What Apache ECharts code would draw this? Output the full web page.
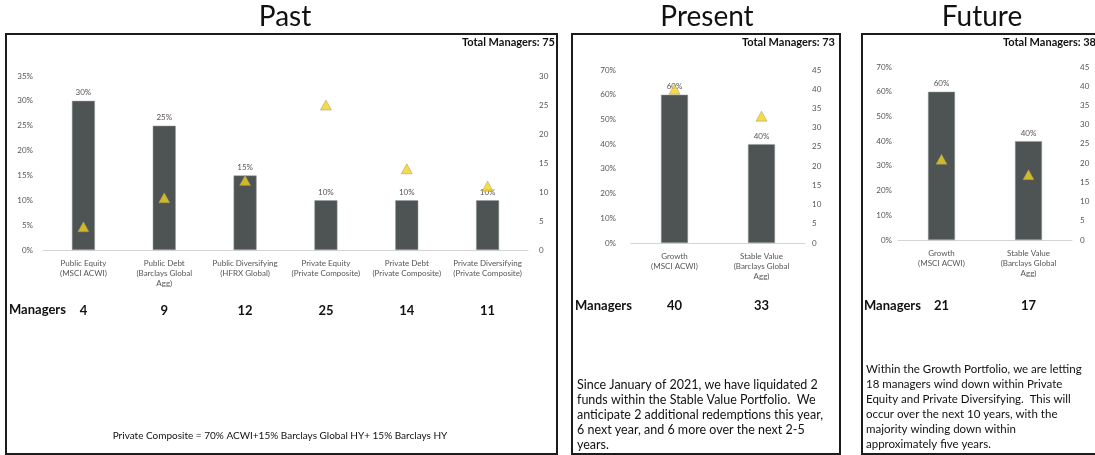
<!DOCTYPE html>
<html>
<head>
<meta charset="utf-8">
<title>Managers - Past / Present / Future</title>
<script src="https://cdn.jsdelivr.net/npm/echarts@6/dist/echarts.min.js"></script>
<style>
	html, body { margin: 0; padding: 0; background: #fff; }
	#container { width: 1095px; height: 455px; }
</style>
</head>
<body>
<div id="container"></div>
<script>
// data
var pastCategories = ['Public Equity\n(MSCI ACWI)', 'Public Debt\n(Barclays Global\nAgg)', 'Public Diversifying\n(HFRX Global)',
	'Private Equity\n(Private Composite)', 'Private Debt\n(Private Composite)', 'Private Diversifying\n(Private Composite)'];
var pastAllocation = [30, 25, 15, 10, 10, 10];
var pastManagers = [4, 9, 12, 25, 14, 11];

var presentCategories = ['Growth\n(MSCI ACWI)', 'Stable Value\n(Barclays Global\nAgg)'];
var presentAllocation = [60, 40];
var presentManagers = [40, 33];

var futureCategories = ['Growth\n(MSCI ACWI)', 'Stable Value\n(Barclays Global\nAgg)'];
var futureAllocation = [60, 40];
var futureManagers = [21, 17];

var pastTotal = 75, presentTotal = 73, futureTotal = 38;

var presentNote = 'Since January of 2021, we have liquidated 2\nfunds within the Stable Value Portfolio.  We\nanticipate 2 additional redemptions this year,\n6 next year, and 6 more over the next 2-5\nyears.';
var futureNote = 'Within the Growth Portfolio, we are letting\n18 managers wind down within Private\nEquity and Private Diversifying.  This will\noccur over the next 10 years, with the\nmajority winding down within\napproximately five years.';
var pastNote = 'Private Composite = 70% ACWI+15% Barclays Global HY+ 15% Barclays HY';

(function(){
	var dom = document.getElementById("container");
	var myChart = echarts.init(dom);
	var FONT = 'Lato, "Liberation Sans", sans-serif';
	var BAR = '#4e5354';
	var TRI = '#f3d21a';

	var grid = [], xAxis = [], yAxis = [], series = [];

	// one panel = one grid, category axis + managers row, two value axes, bars + triangles
	function panel(p) {
		var g = grid.length;
		grid.push({left: p.left, width: p.width, top: p.top, height: p.height});
		xAxis.push({
			type: 'category', gridIndex: g, data: p.categories,
			axisLine: {lineStyle: {color: '#d4d4d4'}}, axisTick: {show: false},
			axisLabel: {fontFamily: FONT, fontSize: 8, lineHeight: 10, color: '#555', margin: 8, interval: 0}
		});
		xAxis.push({
			type: 'category', gridIndex: g, data: p.managers.map(String), position: 'bottom', offset: p.rowOffset,
			axisLine: {show: false}, axisTick: {show: false},
			axisLabel: {fontFamily: FONT, fontSize: 13, fontWeight: 'bold', color: '#111', margin: 4, interval: 0}
		});
		yAxis.push({
			type: 'value', gridIndex: g, min: 0, max: p.leftMax, interval: p.leftStep,
			splitLine: {show: false}, axisLine: {show: false}, axisTick: {show: false},
			axisLabel: {fontFamily: FONT, fontSize: 8, color: '#555', margin: p.leftMargin, formatter: '{value}%'}
		});
		yAxis.push({
			type: 'value', gridIndex: g, position: 'right', min: 0, max: p.rightMax, interval: 5,
			splitLine: {show: false}, axisLine: {show: false}, axisTick: {show: false},
			axisLabel: {fontFamily: FONT, fontSize: 8, color: '#555', margin: p.rightMargin}
		});
		series.push({
			type: 'bar', xAxisIndex: 2 * g, yAxisIndex: 2 * g, data: p.allocation, barWidth: p.barWidth,
			itemStyle: {color: BAR, borderColor: '#9a9e9e', borderWidth: 0.5},
			label: {show: true, position: 'top', distance: 4, fontFamily: FONT, fontSize: 8, color: '#555', formatter: '{c}%'},
			silent: true
		});
		series.push({
			type: 'scatter', xAxisIndex: 2 * g, yAxisIndex: 2 * g + 1, data: p.managers,
			symbol: 'triangle', symbolSize: [11, 10],
			itemStyle: {color: TRI, borderColor: '#9c9468', borderWidth: 0.6},
			z: 5, silent: true
		});
	}

	panel({left: 43, width: 485, top: 76, height: 174, categories: pastCategories, allocation: pastAllocation,
		managers: pastManagers, leftMax: 35, leftStep: 5, rightMax: 30, barWidth: 23,
		leftMargin: 10, rightMargin: 11, rowOffset: 50});
	panel({left: 631, width: 174, top: 70, height: 173, categories: presentCategories, allocation: presentAllocation,
		managers: presentManagers, leftMax: 70, leftStep: 10, rightMax: 45, barWidth: 27,
		leftMargin: 15, rightMargin: 7, rowOffset: 52});
	panel({left: 898, width: 174, top: 67, height: 173, categories: futureCategories, allocation: futureAllocation,
		managers: futureManagers, leftMax: 70, leftStep: 10, rightMax: 45, barWidth: 27,
		leftMargin: 6, rightMargin: 8, rowOffset: 55});

	function box(x, w) {
		return {type: 'rect', shape: {x: x, y: 34, width: w, height: 420},
			style: {fill: 'none', stroke: '#1c1c1c', lineWidth: 2}, silent: true};
	}
	function txt(x, y, text, opts) {
		return {type: 'text', x: x, y: y, silent: true,
			style: Object.assign({text: text, fontFamily: FONT, fill: '#111'}, opts || {})};
	}
	var titleStyle = {fontFamily: FONT, fontSize: 28, fontWeight: 'normal', color: '#111'};

	option = null;
	option = {
		backgroundColor: '#fff',
		animation: false,
		title: [
			{text: 'Past', left: 280, top: -2, textAlign: 'center', textStyle: titleStyle},
			{text: 'Present', left: 702, top: -2, textAlign: 'center', textStyle: titleStyle},
			{text: 'Future', left: 977, top: -2, textAlign: 'center', textStyle: titleStyle}
		],
		grid: grid,
		xAxis: xAxis,
		yAxis: yAxis,
		series: series,
		graphic: [
			box(6, 551), box(572, 268), box(862, 240),
			txt(555, 37, 'Total Managers: ' + pastTotal, {fontSize: 11, fontWeight: 'bold', align: 'right'}),
			txt(835, 37, 'Total Managers: ' + presentTotal, {fontSize: 11, fontWeight: 'bold', align: 'right'}),
			txt(1096, 37, 'Total Managers: ' + futureTotal, {fontSize: 11, fontWeight: 'bold', align: 'right'}),
			txt(9, 303, 'Managers', {fontSize: 13, fontWeight: 'bold'}),
			txt(575, 299, 'Managers', {fontSize: 13, fontWeight: 'bold'}),
			txt(864, 299, 'Managers', {fontSize: 13, fontWeight: 'bold'}),
			txt(280, 431, pastNote, {fontSize: 10, align: 'center'}),
			txt(577, 377, presentNote, {fontSize: 12.5, lineHeight: 15}),
			txt(866, 362, futureNote, {fontSize: 11.5, lineHeight: 15})
		]
	};;
	if (option && typeof option === "object") {
		myChart.setOption(option, true);
	}
})();
</script>
</body>
</html>
